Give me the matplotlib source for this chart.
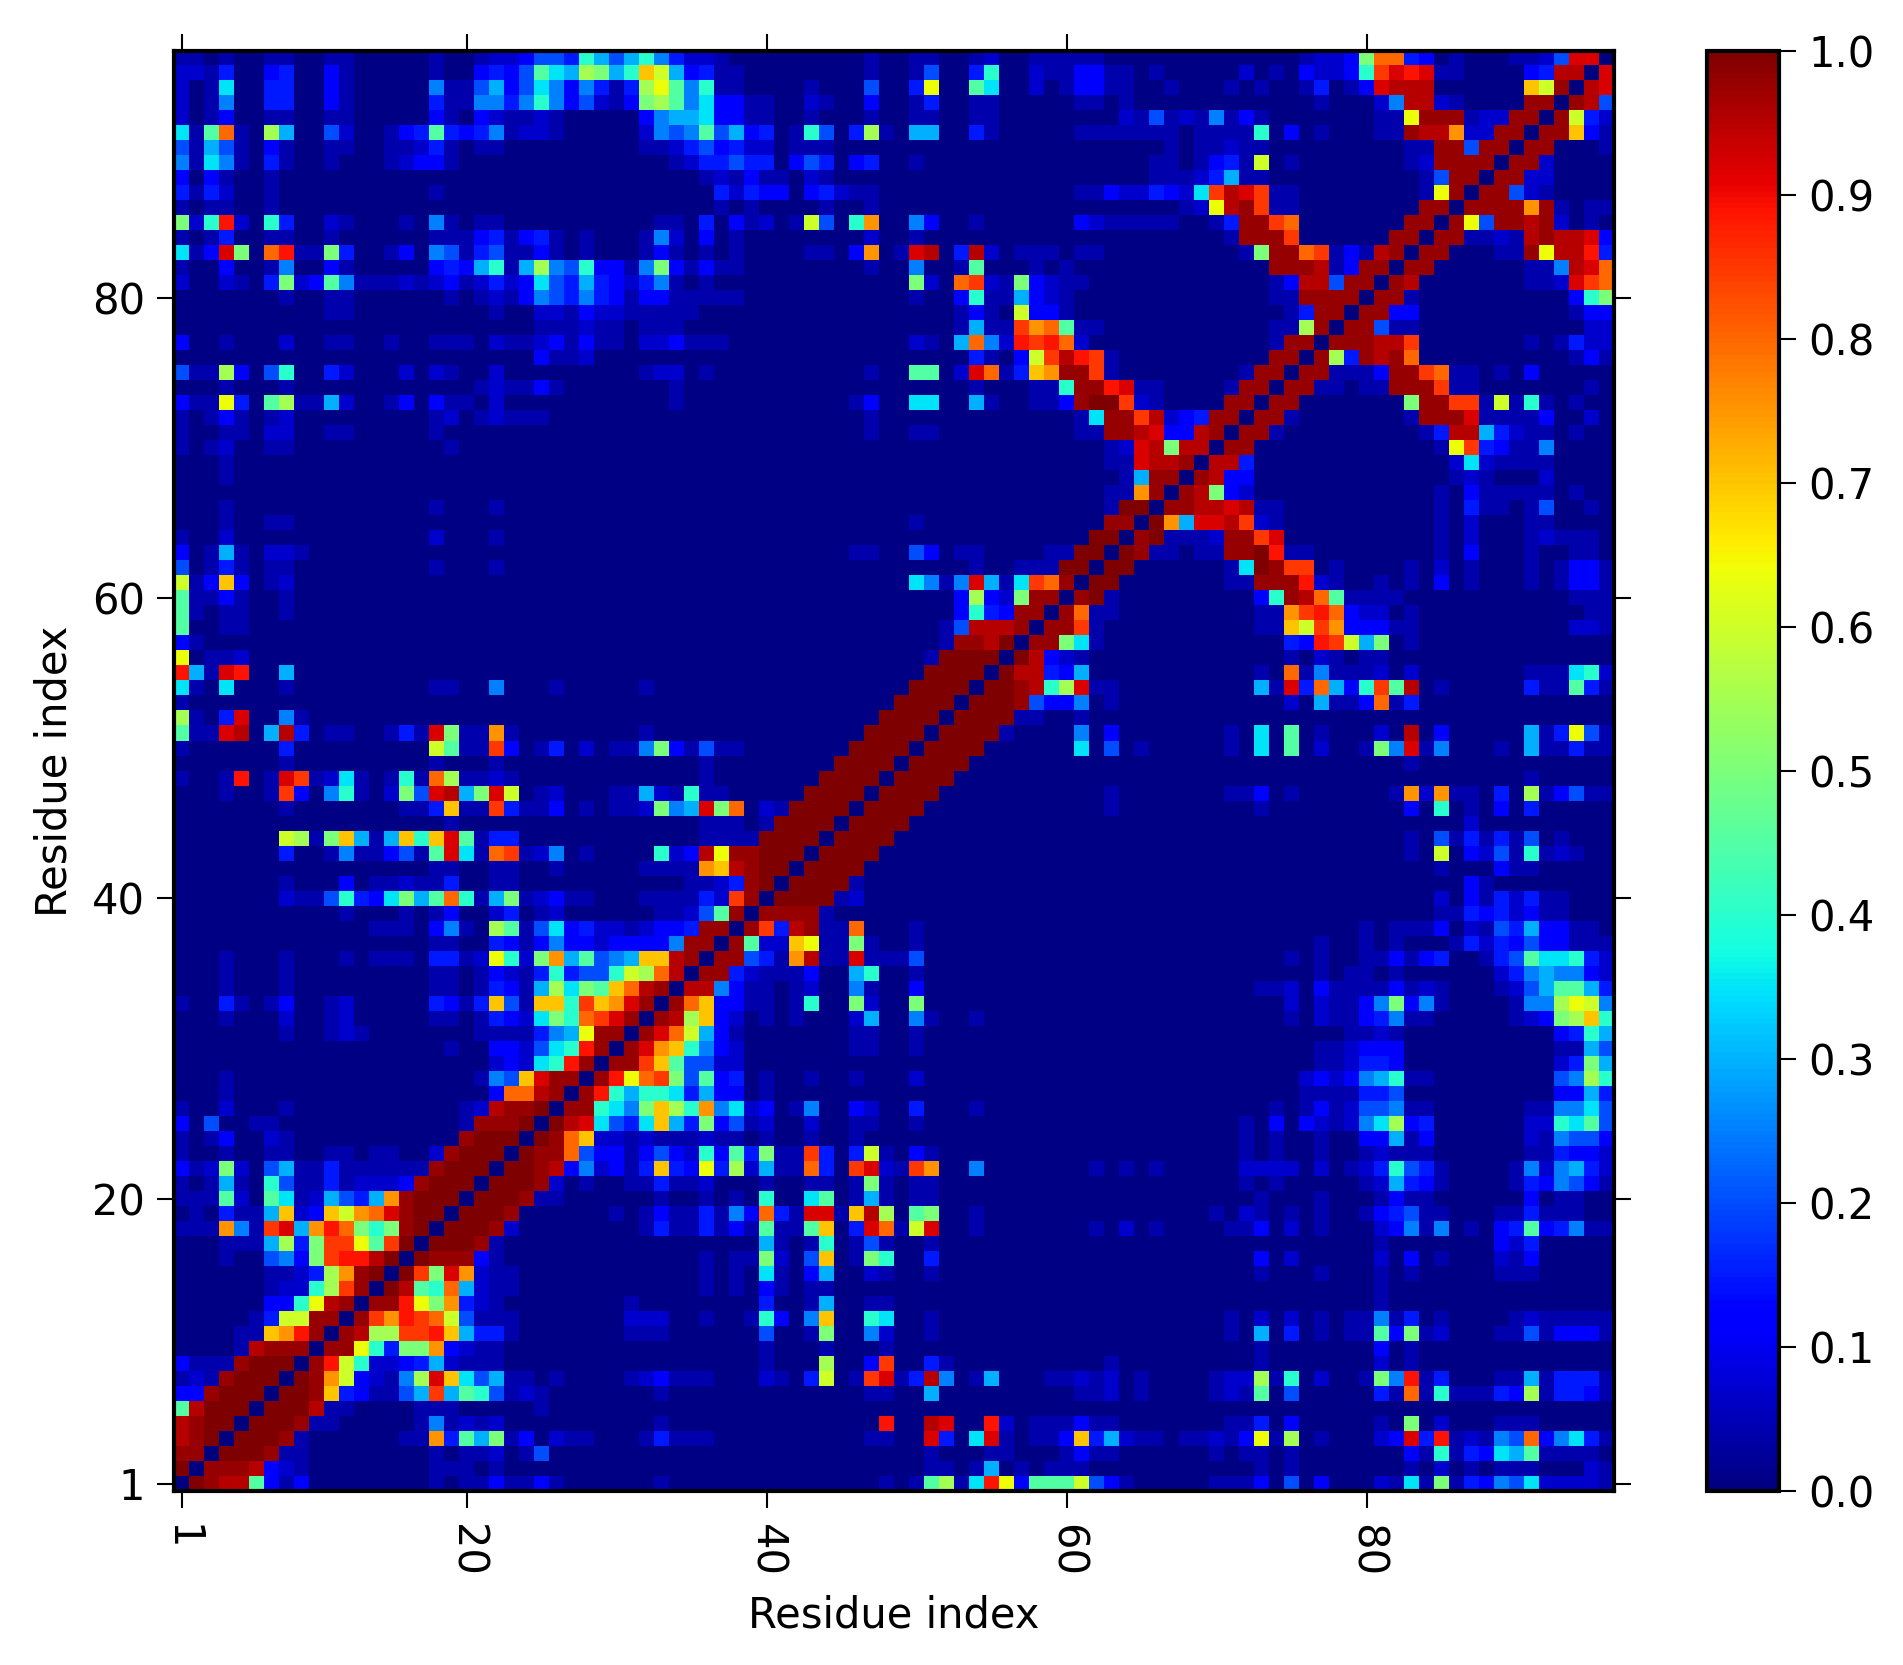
import re

import matplotlib
matplotlib.use('Agg')
import matplotlib.pyplot as plt
import numpy as np

N_RESIDUES = 96
TICK_INDEX = [0, 19, 39, 59, 79]
TICK_LABELS = ['1', '20', '40', '60', '80']
CBAR_TICKS = [0.0, 0.1, 0.2, 0.3, 0.4, 0.5, 0.6, 0.7, 0.8, 0.9, 1.0]

LEVEL_CHARS = '.,-+bcdefghijklmnopqrstuv'
LEVEL_VALUES = [0.0, 0.006, 0.04, 0.07, 0.11, 0.15, 0.2, 0.25, 0.3, 0.35, 0.4,
                0.45, 0.5, 0.55, 0.6, 0.64, 0.7, 0.75, 0.8, 0.85, 0.89, 0.92,
                0.95, 0.98, 1.0]

# residue (0-based) -> runs "start column + levels", lower triangle only,
# cells not listed sit at the ',' background level
CONTACTS = {
    95: "0--,-,,-- 10-- 17- 20-++bddchfdfhec++- 46- 49-- 53-+ 57----- 75-++bjppcb 85- 89--+dss",
    94: "0++-c,,bc 10b- 17- 20bcbdigfkjfhnlfbc-- 46- 49-d 53ch 57+-- 60bb-- 65- 71+ 73- 75b++bhqsrs-- 90bctt",
    93: "0+,-g,,cc 10b- 17e-- 20dfbdgebec-ckmieh-- 42- 46d 49cm 53ig 57+,-bb-- 66- 70- 72- 75- 76c,-bsttt 90nlu",
    92: "0+,-e,,cc 10b- 17c-- 20eecehebd+-bjkiegbb-- 42+- 46b 49-c 53-- 60-- 63- 76- 80+ett+- 90uu",
    91: "0+,-b,,-- 10-- 17b-,b+--+- 31beffgbb-- 42- 46- 49-- 53-- 63+- 65d-+-e-b- 80--muuu-++uu",
    90: "0g-ip-,kf,,d+ 14-bcicbce-++- 31+edeidfbc,-hd,ck- 49ff 53c- 60----- 65--,----h,b 76- 80--utto++uu",
    89: "0d-fd-,b-,,-- 14--+c-,-- 31--+cdbc++,--- 66- 68--+-- 82--uuduu",
    88: "0e-ge-,c- 10- 14-+bb- 33-+ccdcc,bdc,bc,,- 65-- 68-bc-l,- 82-+uuuu",
    87: "0b,b-,,- 35-+-b--,+- 65---+cf-- 83-duu",
    86: "0c-c+,,- 17- 36c+cbb,bc+-- 60--b++cb+gqtsq-- 83-mu",
    85: "0-,--,,- 36- 38- 43- 46- 67-+mtuq-- 83uu",
    84: "0j+hr+,hc,,+- 15-,e-,-- 32--,c,b-+,-ld,ho 49eb 53- 60b+-----,,-cuuqp 82uu",
    83: "0-,-c,,-- 10- 17---bc-bc-,-,,,-e+,b,- 46+ 49- 70-uuuq 81uu",
    82: "0g-bsj,pr--jc 14-b,ed-cd--b- 27- 31-b-,-,- 42--,bo,-st,ct+,---,-- 71-juupq-b-tu",
    81: "0-,,b,,-e,,b- 17bcbfh-fkedhbb-ejb-b-- 46- 49e 52-i 57-,- 73uuut-buu",
    80: "0+,,+-,cj+bie---+-+b-+c+bgdcfcb+ce-,- 49j+,pq+-jb+-- 73-bttduu",
    79: "7- 10-- 18-,-+-bedcecb-bb----- 49- 52bh--fb+- 73--uuuu",
    78: "10-- 21- 24++-b++----- 52-b-,lbb- 74-cuu",
    77: "24---+--,--- 52-f--qopi-- 73--ku",
    76: "0b,,-,,,+ 10-- 14- 17--- 21+--+b-b--,++b--- 49+-,fpe+rqrp+ 73-uu",
    75: "24b--+ 53c-,blqtrq- 73uu",
    74: "0d--kb,dh,,c+ 15+,+-,,+ 31-++,- 46- 49ii,+sp-cnouuq- 71-uu",
    73: "3- 7- 20-+--b- 33- 53- 57--huurs-- 70-uu",
    72: "0b--mc,ik--f+ 14-b,b--,+ 33- 45-b 49gg 53f- 57--buvvq+- 70uu",
    71: "0-,-b-,-+ 17-+,-+--- 46- 60-guuqt+bcuu",
    70: "0-,,--,++ 10-- 17- 46- 49-- 60--uutsbbtu",
    69: "0-,-+,,-- 18- 62-+stjtt",
    68: "3- 62--sttu",
    67: "3- 63-fuu",
    66: "62--ou",
    65: "3- 17- 21- 62-vv",
    64: "3- 6-- 49- 62uu",
    63: "0-,,+ 17+,,,- 61vv",
    62: "0b,-f-,++- 45-- 49db 52-- 58-- 60vv",
    61: "0d,-c-,-- 17- 21- 53- 56--- 59vv",
    60: "0l-bnb,-+ 49ge-esf-gqpu",
    59: "0i--b-,,- 52bkb+juu",
    58: "0i-,--,,- 52bhcbuu",
    57: "0i,,-- 51-dtttu",
    56: "0b-,, 51-uutv",
    55: "0m,--+ 50-vvvv",
    54: "0rf-sr,,f 50vvvv",
    53: "0g-,g,,,- 17-- 21e 25- 31- 49vvvv",
    52: "0- 48vvvv",
    51: "0k-,cs,,e- 47vvvv",
    50: "0i--st,ftc,-- 14-c-sj--o- 31- 46vvvv",
    49: "0- 7c 17li--qb,-c,+,--ejb-d-- 45vvvv",
    48: "7- 17- 21- 35- 44vvvv",
    47: "0-,,-r,-sq-+g-,-h-pk--+- 35- 43vvvv",
    46: "3-,,-qb,eh-,+jdstfjsl,-+,,,--f+-h-- 42vvvv",
    45: "7- 15--cn--qc--b,-,--+jefsjp,+- 41vvvv",
    44: "18- 35--- 39- 40vvvv",
    43: "7lk-jnf-fnhnsi-cc 35---- 39vvvv",
    42: "7c,,-e--bd-isg-pq-+e,- 32h+btmuuvvv",
    41: "17-- 21-- 25- 31---- 35ontuvv",
    40: "7- 11b 13--+--c 21-- 34--+cuv",
    39: "7+--dhcbgjfiph-fj-+b-- 31----c+qu",
    38: "11- 15- 17-b,,+c,-+ 32--+diu",
    37: "13--- 17be-,ki-dgbc++-+bbcuu",
    36: "17--,,cb-bebb+bbbbeuu",
    35: "3- 7- 11- 13--- 17cc-+mh+jofidefnntu",
    34: "3- 7- 17--,-b+-chcddhlkpt",
    33: "3- 7- 17--,-cb-fkgjinptu",
    32: "0-,,c-,-b,,-+ 17cb-cnd-nnhqnosu",
    31: "3- 7+ 10-+ 17--,-cb+gjhpqsu",
    30: "7- 10-+- 20----cefmuu",
    29: "18- 21bb+dghru",
    28: "21+b+ghru",
    27: "3- 20-ednsuu",
    26: "3- 21bpptu",
    25: "0- 3+ 7- 19-+tuuv",
    24: "0b,d,,-- 19-uuuv",
    23: "0-,-b,,+- 19uvvv",
    22: "0-,,-,,-- 10-- 13-- 17+uvvv",
    21: "0b-+j+,df--c------uvvv",
    20: "0-,-f-,hd--c-+++buvvv",
    19: "0---i+,ig-+fdcfouvvv",
    18: "0,-,c--fn+bnlopsuvv",
    17: "0---oe-qsforpjhjuv",
    16: "3---fkcjqqmiqv",
    15: "3- 6debjqrrtv",
    14: "6--+ckouv",
    13: "6-++hkqu",
    12: "4,,bbhmtu",
    11: "5-clluu",
    10: "4--noru",
    9: "4-tuuu",
    8: "0b---uvvv",
    7: "0-+-uvvv",
    6: "0bbuvvv",
    5: "0itvvv",
    4: "0tuvv",
    3: "0tuv",
    2: "0uu",
    1: "0v",
}


def build_matrix():
    lookup = dict(zip(LEVEL_CHARS, LEVEL_VALUES))
    mat = np.full((N_RESIDUES, N_RESIDUES), lookup[','])
    for res, runs in CONTACTS.items():
        for start, levels in re.findall(r'(\d+)([^\d\s]+)', runs):
            for offset, ch in enumerate(levels):
                col = int(start) + offset
                if col < res:
                    mat[res, col] = lookup[ch]
                    mat[col, res] = lookup[ch]
    np.fill_diagonal(mat, 0.0)
    return mat


mat = build_matrix()

plt.rcParams['font.family'] = 'DejaVu Sans'
plt.rcParams['font.size'] = 10

fig = plt.figure(figsize=(1903 / 300, 1665 / 300), dpi=300)
ax = fig.add_axes([174 / 1903, 1 - 1491 / 1665, 1440 / 1903, 1440 / 1665])
img = ax.imshow(mat, origin='lower', cmap='jet', vmin=0, vmax=1,
                interpolation='nearest', aspect='auto')
ax.set_xticks(TICK_INDEX)
ax.set_xticklabels(TICK_LABELS, rotation=-90)
ax.set_yticks(TICK_INDEX)
ax.set_yticklabels(TICK_LABELS)
ax.tick_params(direction='out', length=4, width=0.5, top=True, right=True)
ax.tick_params(axis='x', pad=4)
ax.tick_params(axis='y', pad=3)
ax.set_xlabel('Residue index')
ax.set_ylabel('Residue index')
for spine in ax.spines.values():
    spine.set_linewidth(1)

cax = fig.add_axes([1707 / 1903, 1 - 1491 / 1665, 72 / 1903, 1440 / 1665])
cbar = fig.colorbar(img, cax=cax)
cbar.set_ticks(CBAR_TICKS)
cbar.ax.tick_params(direction='out', length=4, width=0.5, pad=3)
cbar.outline.set_linewidth(1)

fig.savefig('out.png', dpi=300)
